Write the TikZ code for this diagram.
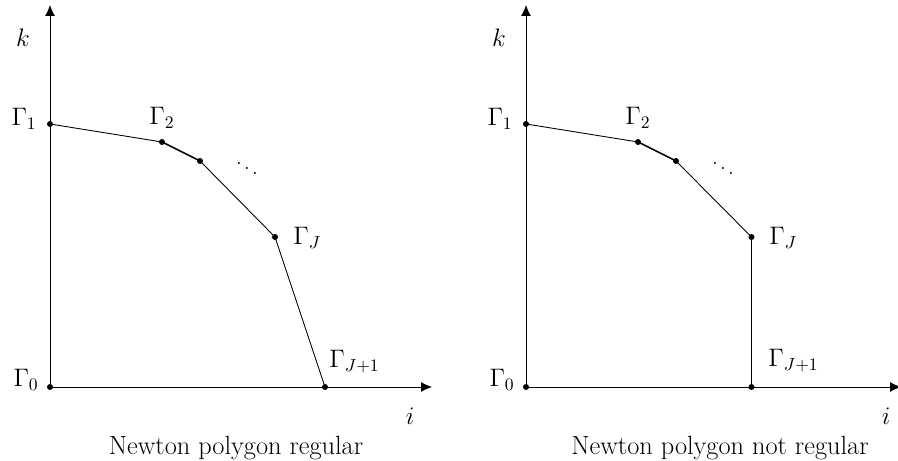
\documentclass[tikz,border=0pt]{standalone}
\usepackage{amsmath}
\usepackage{tikz}
\usetikzlibrary{arrows.meta, positioning}
\tikzset{
  axis/.style={-{Latex[length=2.2mm, width=2mm]}, line width=0.5pt},
  edge/.style={line width=0.5pt},
  bold edge/.style={line width=0.9pt},
  vertex/.style={circle, fill, inner sep=0pt, minimum size=1.2mm},
  lbl/.style={inner sep=0pt, font=\Large},
  caption/.style={anchor=base, inner sep=0pt, font=\fontsize{15}{18}\selectfont},
}
\begin{document}
\begin{tikzpicture}
  \useasboundingbox (0,0) rectangle (17.96,9.22);

  % Regular polygon
  \coordinate (Lo)   at (1.00,1.48);
  \coordinate (Lk)   at (1.00,9.12);
  \coordinate (Li)   at (8.64,1.48);
  \coordinate (Lg1)  at (1.00,6.74);
  \coordinate (Lg2)  at (3.24,6.38);
  \coordinate (Lg3)  at (4.00,6.00);
  \coordinate (LgJ)  at (5.50,4.48);
  \coordinate (LgJ1) at (6.50,1.48);

  \draw[axis] (Lo) -- (Lk);
  \draw[axis] (Lo) -- (Li);
  \draw[edge] (Lg1) -- (Lg2);
  \draw[bold edge] (Lg2) -- (Lg3);
  \draw[edge] (Lg3) -- (LgJ) -- (LgJ1);
  \foreach \p in {Lo, Lg1, Lg2, Lg3, LgJ, LgJ1}{
    \node[vertex] at (\p) {};
  }

  \node[lbl, anchor=base east, xshift=-0.22cm] (LlabO)  at (Lo)  {$\Gamma_0$};
  \node[lbl, anchor=base east, xshift=-0.26cm, yshift=-0.04cm] (Llab1) at (Lg1) {$\Gamma_1$};
  \node[lbl, anchor=base, yshift=0.34cm] (Llab2) at (Lg2) {$\Gamma_2$};
  \node[inner sep=0pt, font=\large] (Ldots) at (4.94,5.96) {$\ddots$};
  \node[lbl, anchor=base west, xshift=0.36cm, yshift=-0.16cm] (LlabJ) at (LgJ) {$\Gamma_J$};
  \node[lbl, anchor=base west, xshift=0.08cm, yshift=0.38cm] (LlabJ1) at (LgJ1) {$\Gamma_{J+1}$};
  \node[lbl, anchor=base] (Llabk) at (0.46,8.28) {$k$};
  \node[lbl, anchor=base] (Llabi) at (8.20,0.72) {$i$};
  \node[caption] (Lcap) at (4.72,0.13) {Newton polygon regular};

  % Non-regular polygon
  \begin{scope}[xshift=9.52cm]
    \coordinate (Ro)   at (1.00,1.48);
    \coordinate (Rk)   at (1.00,9.12);
    \coordinate (Ri)   at (8.50,1.48);
    \coordinate (Rg1)  at (1.00,6.74);
    \coordinate (Rg2)  at (3.24,6.38);
    \coordinate (Rg3)  at (4.00,6.00);
    \coordinate (RgJ)  at (5.51,4.48);
    \coordinate (RgJ1) at (5.51,1.48);

    \draw[axis] (Ro) -- (Rk);
    \draw[axis] (Ro) -- (Ri);
    \draw[edge] (Rg1) -- (Rg2);
    \draw[bold edge] (Rg2) -- (Rg3);
    \draw[edge] (Rg3) -- (RgJ) -- (RgJ1);
    \foreach \p in {Ro, Rg1, Rg2, Rg3, RgJ, RgJ1}{
      \node[vertex] at (\p) {};
    }

    \node[lbl, anchor=base east, xshift=-0.22cm] (RlabO)  at (Ro)  {$\Gamma_0$};
    \node[lbl, anchor=base east, xshift=-0.26cm, yshift=-0.04cm] (Rlab1) at (Rg1) {$\Gamma_1$};
    \node[lbl, anchor=base, yshift=0.34cm] (Rlab2) at (Rg2) {$\Gamma_2$};
    \node[inner sep=0pt, font=\large] (Rdots) at (4.94,5.96) {$\ddots$};
    \node[lbl, anchor=base west, xshift=0.35cm, yshift=-0.16cm] (RlabJ) at (RgJ) {$\Gamma_J$};
    \node[lbl, anchor=base west, xshift=0.33cm, yshift=0.40cm] (RlabJ1) at (RgJ1) {$\Gamma_{J+1}$};
    \node[lbl, anchor=base] (Rlabk) at (0.46,8.28) {$k$};
    \node[lbl, anchor=base] (Rlabi) at (8.20,0.72) {$i$};
    \node[caption] (Rcap) at (4.88,0.13) {Newton polygon not regular};
  \end{scope}

\end{tikzpicture}
\end{document}
